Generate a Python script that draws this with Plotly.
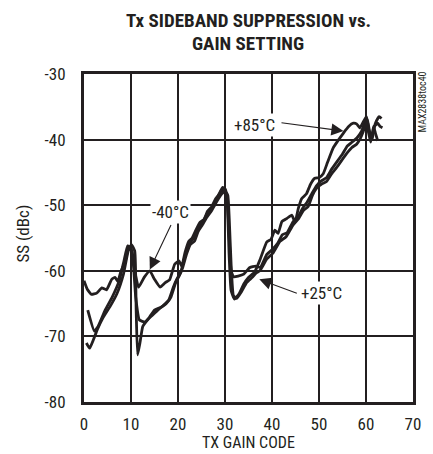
import plotly.graph_objects as go

# TX gain code (x) and sideband suppression in dBc (y) for each temperature
x_m40 = [0, 0.7, 1.6, 2.7, 3.8, 4.8, 5.9, 6.6, 7.2, 7.8, 8.8, 9.5, 10.2, 10.8, 11.6, 12.8, 14, 15, 16.2, 17.3, 18.2,
         19.3, 20.2, 20.8, 21.5, 22.3, 23, 23.8, 24.7, 25.5, 26.3, 27.2, 28, 28.8, 29.4, 30.0, 30.5, 30.9, 31.3, 31.8,
         32.8, 34, 35.3, 36.5, 37.5, 38.9, 40, 41.2, 42.2, 43.2, 44.5, 45.5, 46.5, 47.5, 48.5, 49.5, 50.5, 51.6, 52.7,
         53.8, 55, 56, 57, 58, 59, 59.7, 60.3, 60.8, 61.3, 61.8, 62.5, 63, 63.5]
y_m40 = [-61.5, -62.8, -63.6, -63.4, -62.6, -62.9, -61.3, -61.0, -61.6, -60.2, -58.5, -56.5, -57.0, -60.0, -62.5, -61.0,
         -60.0, -61.3, -62.5, -61.8, -61.4,
         -59.0, -58.5, -59.3, -57.2, -55.5, -55.0, -53.8, -52.6, -52.2, -50.9, -50.2, -49.0, -48.3, -47.6, -48.2, -49.5,
         -55.0, -60.0, -60.9, -60.8, -60.5, -59.5, -59.3, -59.5, -57.5, -56.8, -55.8, -54.5, -54.2, -52.5, -51.8, -50.5,
         -49.5, -48.2, -47.0, -46.3, -45.8, -44.5, -43.4, -42.2, -41.0, -40.4, -39.8, -38.8, -37.5, -37.0, -39.0, -40.0,
         -38.0, -37.5, -38.0, -38.2]

x_p85 = [0.8, 2.2, 3, 4.5, 6, 7.5, 8.5, 9.3, 10, 10.5, 11, 11.8, 13, 14, 15, 16.5, 18, 19, 19.8, 20.6, 21.2, 22, 22.8,
         23.6, 24.5, 25.4, 26.3, 27.2, 28, 28.8, 29.5, 30.1, 30.5, 30.9, 31.3, 32, 33, 34, 35, 36.3, 37.4, 38.9, 39.8,
         40.6, 41.3, 42.1, 43.2, 44.2, 44.9, 45.6, 46.3, 47.3, 48.2, 49.1, 50, 50.9, 51.8, 53, 54, 55.2, 56.3, 57.3, 58,
         58.7, 59.5, 60.1, 60.6, 61.2, 62, 62.8, 63.3]
y_p85 = [-66.0, -69.2, -68.5, -66.0, -64.0, -61.5, -58.5, -56.2, -56.5, -59.0, -64.0, -67.5, -67.8, -67.0, -66.0, -65.5,
         -64.5, -62.5, -61.2, -60.2, -58.5, -56.8, -55.5, -54.8, -53.2, -52.4, -51.2, -50.5, -49.5, -48.2, -47.3, -47.6,
         -50.0, -58.0, -63.0, -64.3, -63.5, -62.0, -61.0, -60.2, -58.4, -55.6, -55.2, -53.8, -54.3, -52.5, -52.0, -51.5,
         -52.6, -50.5, -49.0, -48.3, -46.8, -45.9, -45.8, -45.2, -43.5, -41.3, -40.2, -39.0, -38.0, -37.5, -37.6, -38.2,
         -37.2, -36.5, -38.5, -39.5, -37.5, -36.5, -36.8]

x_p25 = [0.5, 1.2, 2, 2.8, 4, 5.5, 7, 8.4, 9.4, 10.1, 10.8, 11.1, 11.4, 11.9, 12.5, 13.5, 14.5, 16, 17.5, 18.5, 19.5,
         20.3, 21, 21.8, 22.6, 23.5, 24.3, 25.2, 26, 27, 27.8, 28.6, 29.4, 30, 30.6, 30.9, 31.3, 31.8, 32.5, 33.5, 34.6,
         35.8, 36.7, 37.4, 38.9, 40.2, 41.7, 43, 44.5, 45.7, 46.7, 47.7, 48.6, 49.5, 50.5, 51.6, 52.7, 53.8, 54.8, 55.9,
         57, 58, 58.8, 59.4, 60, 60.5, 61, 61.6, 62, 62.5]
y_p25 = [-71.0, -71.8, -70.5, -69.0, -67.2, -65.5, -63.5, -60.5, -57.0, -56.0, -57.0, -66.0, -72.8, -71.0, -68.5, -67.5,
         -66.8, -65.8, -65.0, -64.0, -61.8, -60.7, -59.5, -57.5, -56.0, -55.5, -54.0, -53.0, -52.0, -51.0, -50.0, -49.0,
         -48.2, -47.8, -48.5, -52.0, -59.0, -63.8, -64.2, -63.2, -61.8, -61.0, -60.3, -60.0, -58.2, -57.3, -55.5, -54.8,
         -53.0, -52.0, -50.8, -50.2, -48.5, -47.4, -46.8, -46.4, -45.2, -44.2, -43.2, -42.1, -41.2, -40.7, -39.8, -38.8,
         -37.5, -38.8, -40.4, -38.0, -39.0, -40.2]

x_ticks = [0, 10, 20, 30, 40, 50, 60, 70]
y_ticks = [-80, -70, -60, -50, -40, -30]

INK = "#231f20"
FONT = "Liberation Sans Narrow, Arial Narrow, Roboto Condensed, Liberation Sans, sans-serif"

W, H = 433, 454
L, R, T, B = 84, 20, 74, 52
PW, PH = W - L - R, H - T - B


def px(xp):
    return (xp - L) / PW


def py(yp):
    return (H - B - yp) / PH


fig = go.Figure()
for xs, ys, name in [(x_m40, y_m40, "-40°C"), (x_p85, y_p85, "+85°C"), (x_p25, y_p25, "+25°C")]:
    fig.add_trace(go.Scatter(x=xs, y=ys, mode="lines", name=name,
                             line=dict(color=INK, width=2.8, shape="spline", smoothing=0.4),
                             showlegend=False, hoverinfo="skip"))

# labels with arrows
labels = [
    ("-40°C", 18.45, -51.1, 14.0, -59.8, 18.66, -52.8),
    ("+85°C", 36.3, -37.7, 55.2, -38.7, 41.7, -37.4),
    ("+25°C", 50.6, -63.4, 37.3, -61.3, 45.6, -63.5),
]
for txt, tx, ty, hx, hy, sx, sy in labels:
    fig.add_annotation(x=hx, y=hy, ax=sx, ay=sy, xref="x", yref="y", axref="x", ayref="y",
                       text="", showarrow=True, arrowhead=2, arrowsize=2.2, arrowwidth=1.1,
                       arrowcolor=INK, standoff=0)
    fig.add_annotation(x=tx, y=ty, xref="x", yref="y", text=txt, showarrow=False,
                       bgcolor="white", borderpad=1,
                       font=dict(family=FONT, size=17, color=INK))

# title lines
fig.add_annotation(x=px(248), y=py(21), xref="paper", yref="paper", text="<b>Tx SIDEBAND SUPPRESSION vs.</b>",
                   showarrow=False, xanchor="center", yanchor="middle",
                   font=dict(family=FONT, size=19, color=INK))
fig.add_annotation(x=px(248), y=py(43), xref="paper", yref="paper", text="<b>GAIN SETTING</b>",
                   showarrow=False, xanchor="center", yanchor="middle",
                   font=dict(family=FONT, size=19, color=INK))
# axis titles
fig.add_annotation(x=px(22), y=py(233.5), xref="paper", yref="paper", text="SS (dBc)", textangle=-90,
                   showarrow=False, xanchor="center", yanchor="middle",
                   font=dict(family=FONT, size=17, color=INK))
fig.add_annotation(x=px(248), y=py(442), xref="paper", yref="paper", text="TX GAIN CODE",
                   showarrow=False, xanchor="center", yanchor="middle",
                   font=dict(family=FONT, size=16, color=INK))
# figure code
fig.add_annotation(x=px(422), y=py(102.5), xref="paper", yref="paper", text="MAX2838toc40", textangle=-90,
                   showarrow=False, xanchor="center", yanchor="middle",
                   font=dict(family=FONT, size=10, color=INK))

fig.update_layout(
    width=W, height=H,
    margin=dict(l=L, r=R, t=T, b=B, pad=0),
    paper_bgcolor="white", plot_bgcolor="white",
    font=dict(family=FONT, size=17, color=INK),
)
fig.update_xaxes(range=[0, 70], tickvals=x_ticks, ticktext=[str(v) for v in x_ticks],
                 showgrid=True, gridcolor=INK, gridwidth=1.6, zeroline=False,
                 showline=True, linecolor=INK, linewidth=3, mirror=True, ticks="outside",
                 ticklen=5, tickcolor="rgba(0,0,0,0)",
                 tickfont=dict(family=FONT, size=17, color=INK))
fig.update_yaxes(range=[-80, -30], tickvals=y_ticks, ticktext=[str(v) for v in y_ticks],
                 showgrid=True, gridcolor=INK, gridwidth=1.6, zeroline=False,
                 showline=True, linecolor=INK, linewidth=3, mirror=True, ticks="outside",
                 ticklen=12, tickcolor="rgba(0,0,0,0)",
                 tickfont=dict(family=FONT, size=17, color=INK))

fig.write_html("out.html", config={"displayModeBar": False},
               post_script="document.body.style.margin='0';document.body.style.overflow='hidden';")
